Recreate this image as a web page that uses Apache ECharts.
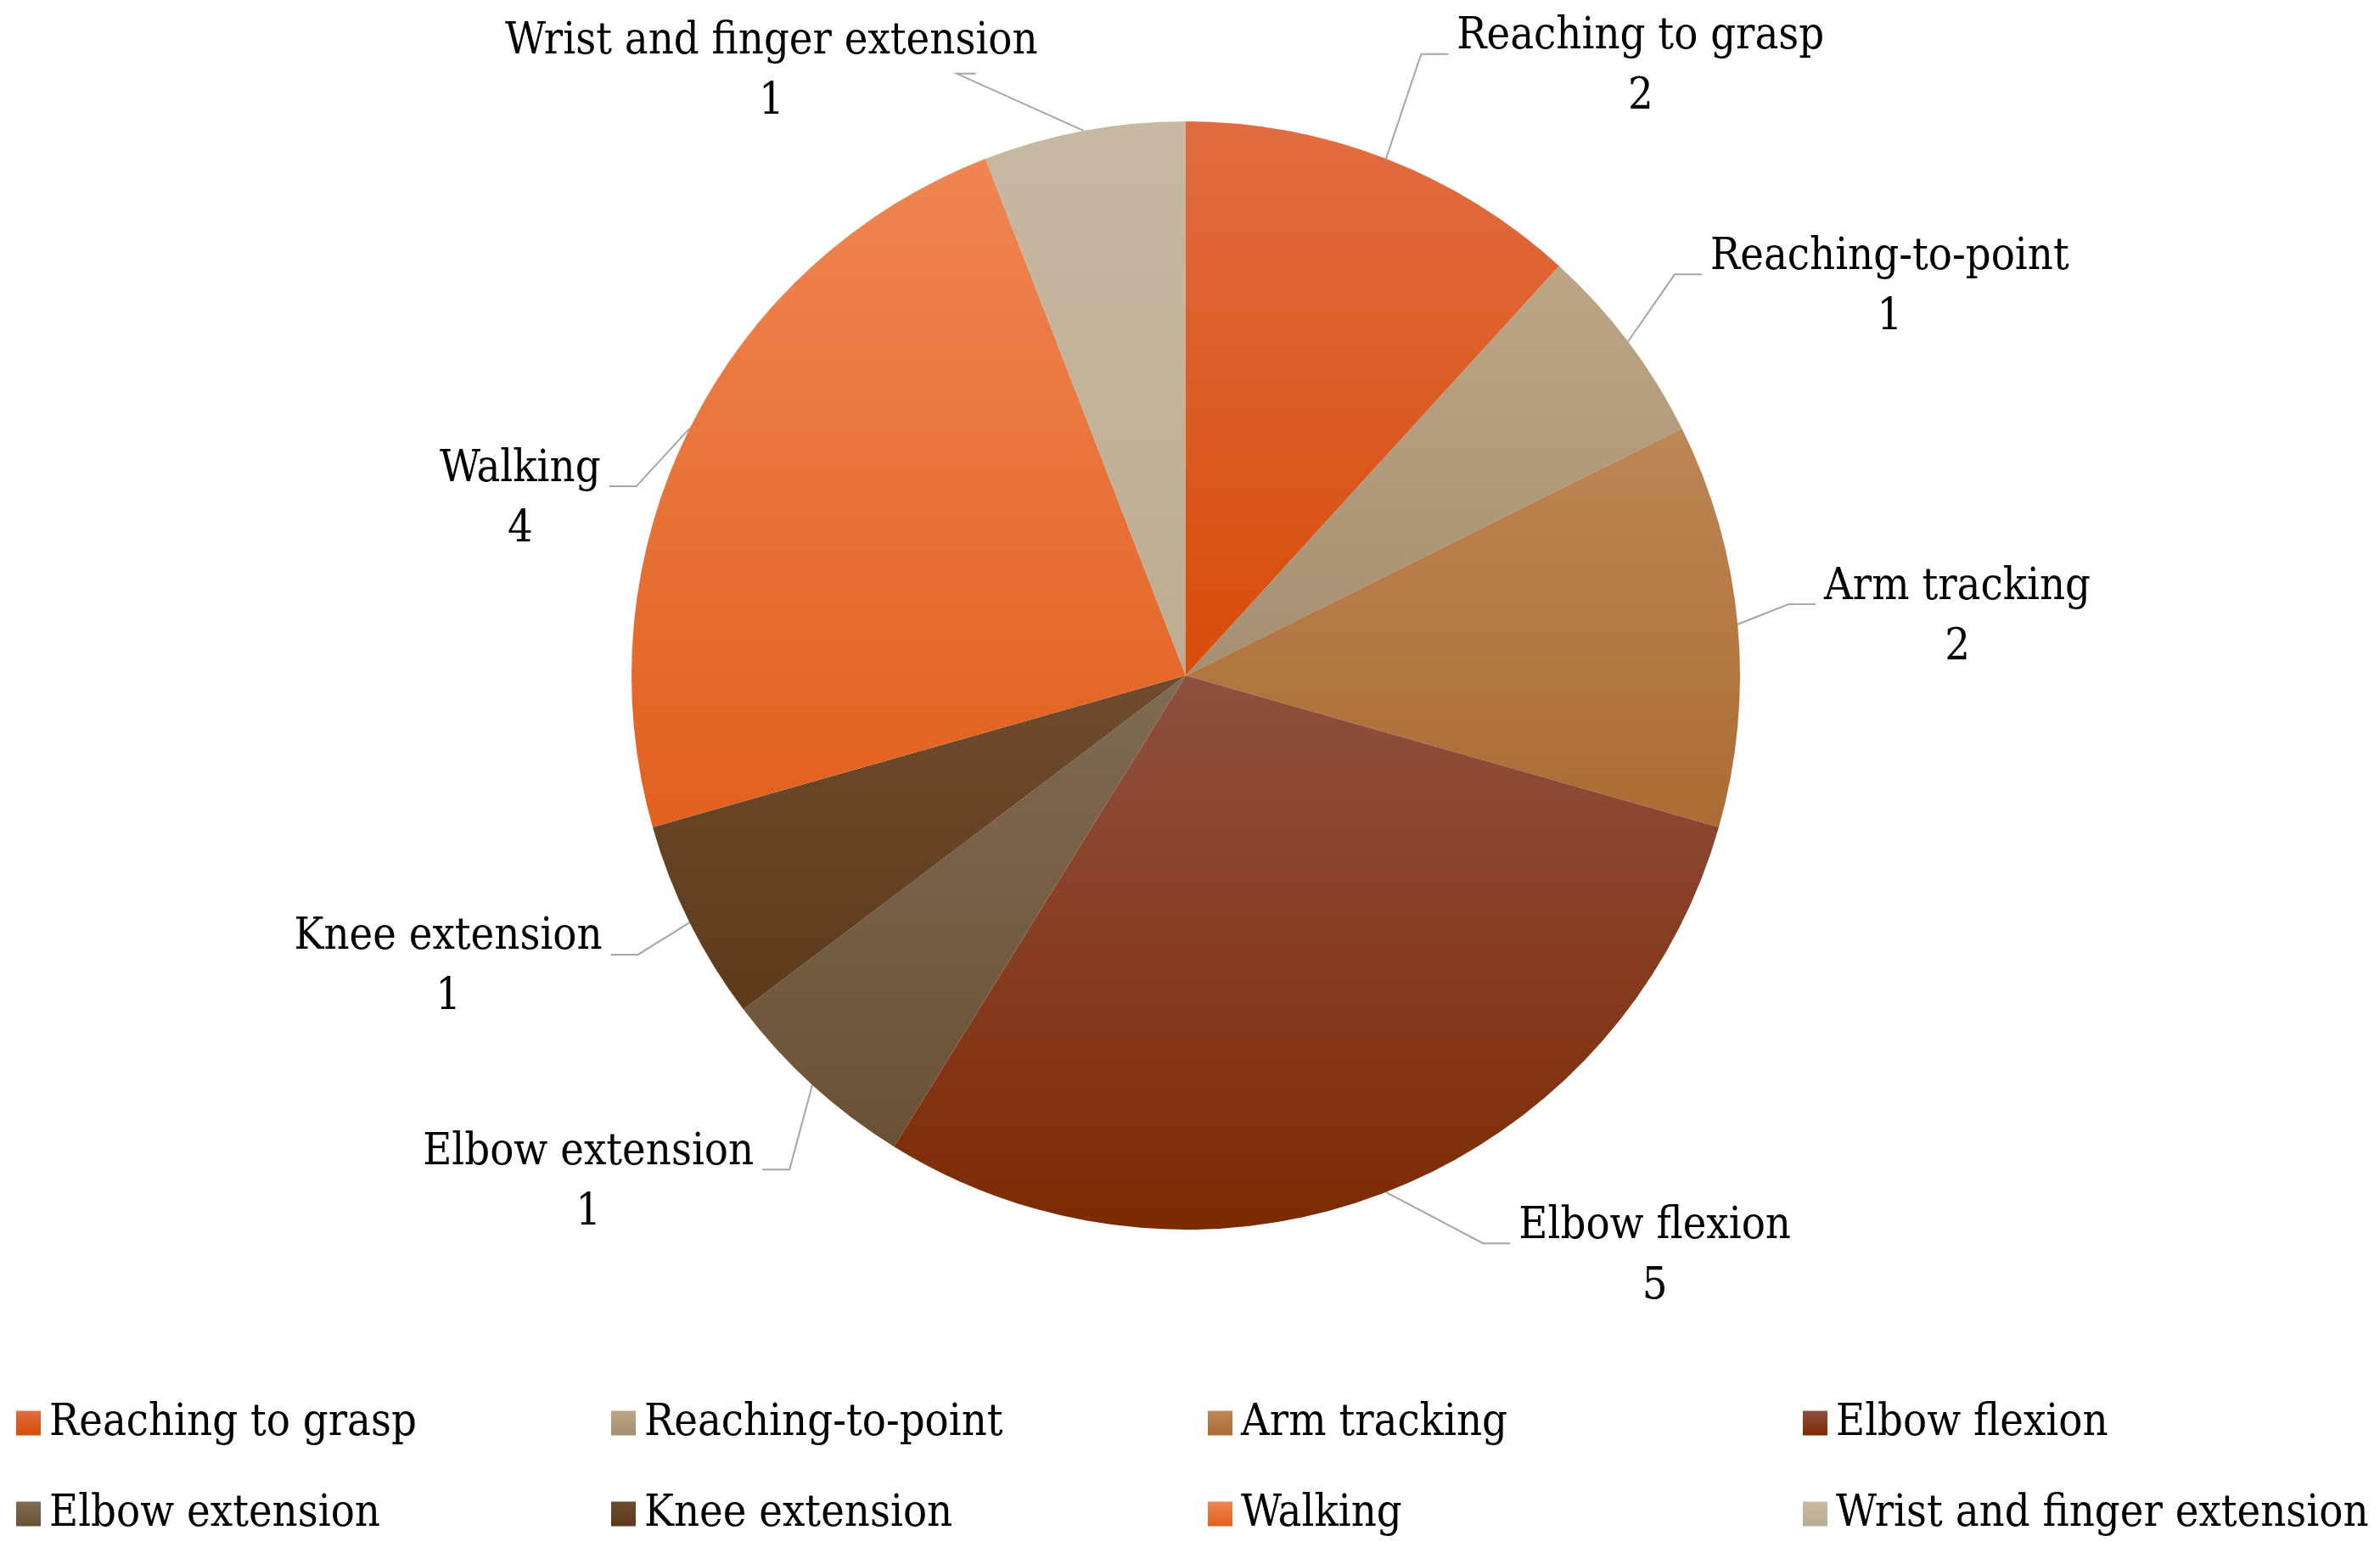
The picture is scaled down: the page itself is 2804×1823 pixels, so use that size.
<!DOCTYPE html>
<html><head><meta charset="utf-8">
<script src="https://cdn.jsdelivr.net/npm/echarts@6/dist/echarts.min.js"></script>
<style>html,body{margin:0;padding:0;background:#fff}#c{width:2804px;height:1823px}</style>
</head><body><div id="c"></div>
<script>
const categories = ['Reaching to grasp','Reaching-to-point','Arm tracking','Elbow flexion','Elbow extension','Knee extension','Walking','Wrist and finger extension'];
const values = [2,1,2,5,1,1,4,1];
const colorsTop = ['#e26c42','#bca685','#bd8655','#8f5040','#7f6b53','#6f4c2f','#ef8552','#c7b9a2'];
const colorsBottom = ['#d74c08','#a48f72','#ac6c33','#7d2a02','#6a5135','#5c3a1a','#e2601e','#bdac92'];

const FONT = '"DejaVu Serif Condensed", "DejaVu Serif", serif';
const grad = (i) => new echarts.graphic.LinearGradient(0,0,0,1,[{offset:0,color:colorsTop[i]},{offset:1,color:colorsBottom[i]}]);

// layout tweaks for label placement (pixels)
const labelShift = [[27,-86],[23,-55],[20,-20],[100,23],[0,70],[-25,20],[-27,86],[-5,-45]];
const lineEndShift = [[0,0],[0,0],[0,0],[0,0],[0,0],[0,0],[0,0],[-83,17]];

const legendCols = [14, 715, 1418, 2119];
const legendRows = [1642, 1749];
const legends = categories.map((name,i)=>({
  data:[{name, icon:'rect'}],
  left: legendCols[i%4], top: legendRows[Math.floor(i/4)],
  itemWidth:29, itemHeight:29, itemGap:0,
  textStyle:{fontFamily:FONT, fontSize:52, color:'#000', lineHeight:60, padding:[0,0,0,5]},
  selectedMode:false
}));

function layoutLabel(p){
  const s = labelShift[p.dataIndex];
  const ls = lineEndShift[p.dataIndex];
  const pts = p.labelLinePoints;
  if (!pts) return {dx:s[0], dy:s[1]};
  const p0 = pts[0], p1 = pts[1], p2 = pts[2];
  let h = p2[0] - p1[0];
  const e = [p2[0] + s[0] + ls[0], p2[1] + s[1] + ls[1]];
  if (ls[0] !== 0) h = -h * 0.7;
  const b = [e[0] - h, e[1]];
  return {dx:s[0], dy:s[1], labelLinePoints:[[p0[0],p0[1]], b, e]};
}

const chart = echarts.init(document.getElementById('c'), null, {renderer:'canvas'});
chart.setOption({
  backgroundColor:'#fff',
  animation:false,
  legend: legends,
  series:[{
    type:'pie',
    center:[1397,796],
    radius:[0,653],
    startAngle:90,
    clockwise:true,
    data: categories.map((name,i)=>({name, value:values[i], itemStyle:{color:grad(i)}})),
    label:{
      show:true,
      formatter:'{n|{b}}\n{v|{c}}',
      padding:[31,0,0,0],
      distanceToLabelLine:10,
      rich:{
        n:{fontFamily:FONT, fontSize:52, lineHeight:71, color:'#000'},
        v:{fontFamily:FONT, fontSize:52, lineHeight:71, color:'#000', align:'center'}
      }
    },
    labelLine:{show:true, length:40, length2:32, smooth:false, lineStyle:{color:'#a6a6a6', width:2}},
    labelLayout: layoutLabel,
    itemStyle:{borderWidth:0}
  }]
});
</script></body></html>
